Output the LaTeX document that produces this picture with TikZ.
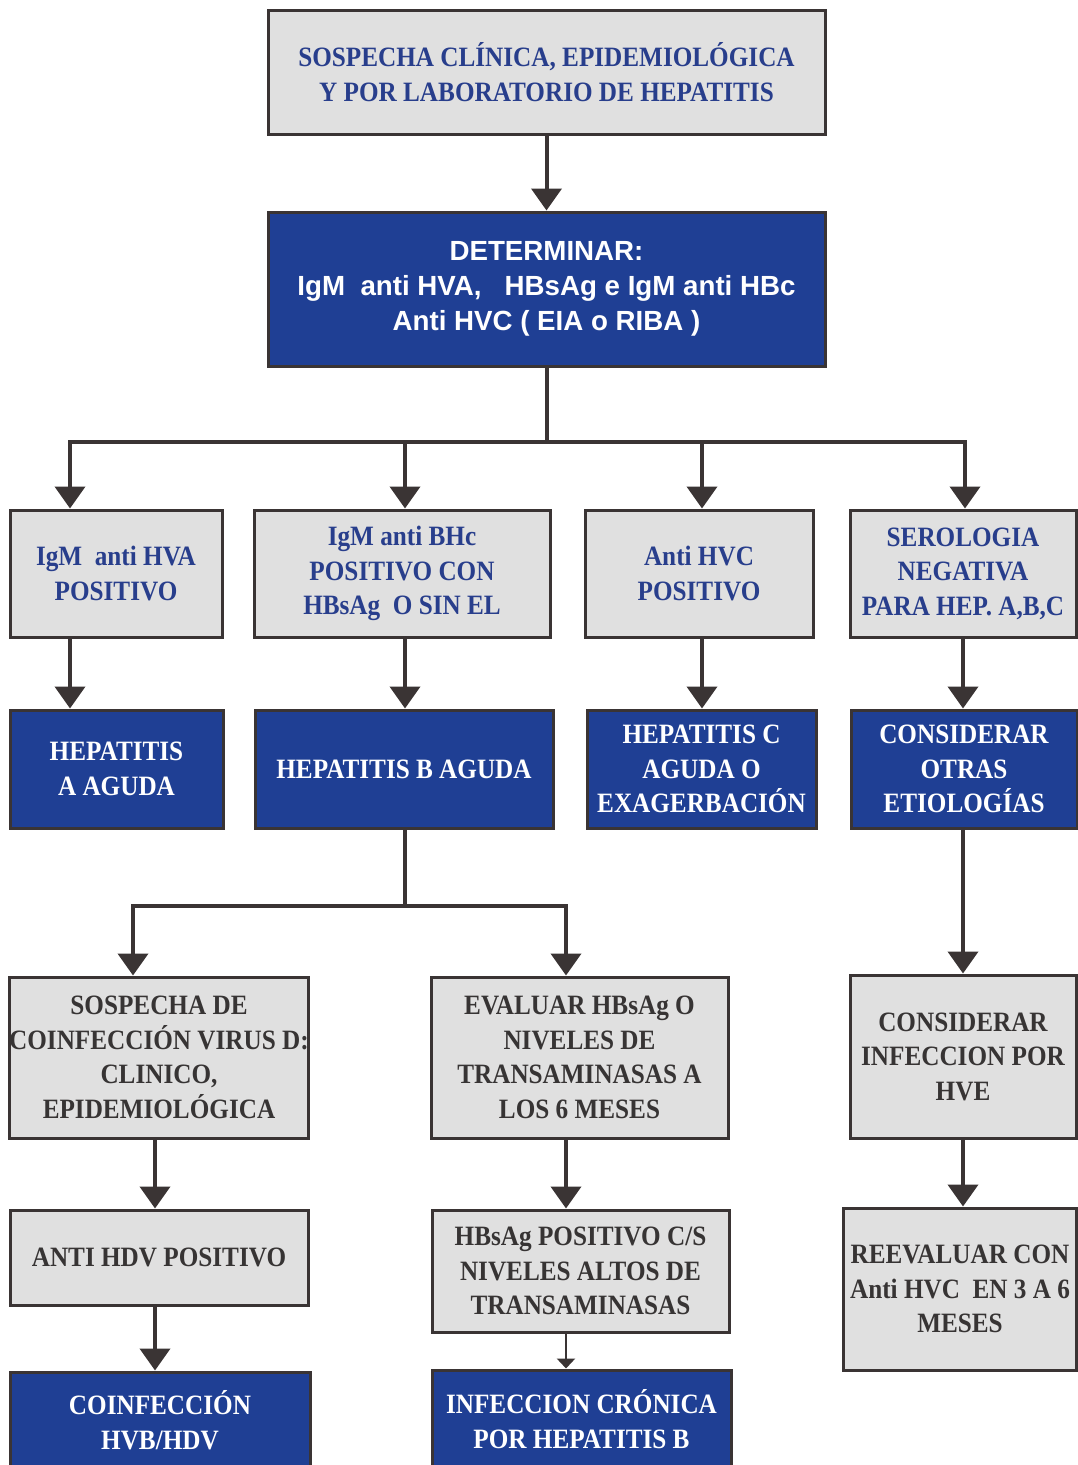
\documentclass[tikz,border=0pt]{standalone}
\usepackage{fontspec}
\setmainfont[FakeStretch=0.9]{Liberation Serif}
\newfontfamily\detfont{Liberation Sans}
\usetikzlibrary{arrows.meta}
\definecolor{boxblue}{RGB}{31,63,148}
\definecolor{boxgray}{RGB}{224,224,224}
\definecolor{txtblue}{RGB}{40,62,140}
\definecolor{txtdark}{RGB}{55,52,52}
\definecolor{edgecol}{RGB}{58,52,52}

\begin{document}
\begin{tikzpicture}[x=1pt, y=-1pt,
  box/.style={draw=edgecol, line width=3pt, rectangle, inner sep=0pt, align=center,
    font=\fontsize{28}{34.5}\selectfont\bfseries},
  sz/.style 2 args={minimum width=#1pt, minimum height=#2pt},
  graybox/.style={box, fill=boxgray, text=txtdark},
  grayblue/.style={box, fill=boxgray, text=txtblue},
  bluebox/.style={box, fill=boxblue, text=white},
  line/.style={draw=edgecol, line width=4pt},
  arr/.style={line, -{Triangle[width=30pt,length=22pt]}}]
  \useasboundingbox (0,0) rectangle (1078,1465);

  % top
  \node[grayblue, sz={557}{124}] (sosp) at (546.5,72) {SOSPECHA CLÍNICA, EPIDEMIOLÓGICA\\Y POR LABORATORIO DE HEPATITIS};
  \node[bluebox, sz={557}{154}, font=\fontsize{27.7}{35}\selectfont\detfont\bfseries] (det) at (546.5,289)
    {DETERMINAR:\\IgM~~anti HVA,~~~HBsAg e IgM anti HBc\\Anti HVC ( EIA o RIBA )};

  % second row
  \node[grayblue, sz={212}{127}] (posA) at (116,573.5) {IgM~~anti HVA\\POSITIVO};
  \node[grayblue, sz={296}{127}] (posB) at (402,573.5) {IgM anti BHc\\POSITIVO CON\\HBsAg~~O SIN EL};
  \node[grayblue, sz={228}{127}] (posC) at (699,573.5) {Anti HVC\\POSITIVO};
  \node[grayblue, sz={226}{127}] (neg) at (963,573.5) {SEROLOGIA\\NEGATIVA\\PARA HEP. A,B,C};

  % third row
  \node[bluebox, sz={213}{118}] (hepA) at (116.5,769) {HEPATITIS\\A AGUDA};
  \node[bluebox, sz={298}{118}] (hepB) at (404,769) {HEPATITIS B AGUDA};
  \node[bluebox, sz={229}{118}] (hepC) at (701.5,769) {HEPATITIS C\\AGUDA O\\EXAGERBACIÓN};
  \node[bluebox, sz={226}{118}] (otras) at (964,769) {CONSIDERAR\\OTRAS\\ETIOLOGÍAS};

  % fourth row
  \node[graybox, sz={298}{161}] (coinf) at (159,1057.5) {SOSPECHA DE\\COINFECCIÓN VIRUS D:\\CLINICO,\\EPIDEMIOLÓGICA};
  \node[graybox, sz={297}{161}] (eval) at (579.5,1057.5) {EVALUAR HBsAg O\\NIVELES DE\\TRANSAMINASAS A\\LOS 6 MESES};
  \node[graybox, sz={226}{163}] (hve) at (963,1056.5) {CONSIDERAR\\INFECCION POR\\HVE};

  % fifth row
  \node[graybox, sz={298}{95}] (hdv) at (159,1257.5) {ANTI HDV POSITIVO};
  \node[graybox, sz={297}{122}] (hbpos) at (580.5,1271) {HBsAg POSITIVO C/S\\NIVELES ALTOS DE\\TRANSAMINASAS};
  \node[graybox, sz={233}{162}] (reev) at (960,1289) {REEVALUAR CON\\Anti HVC~~EN 3 A 6\\MESES};

  % last row
  \node[bluebox, sz={300}{96}] (hvbhdv) at (160,1420) {COINFECCIÓN\\HVB/HDV};
  \node[bluebox, sz={299}{98}] (cronica) at (581.5,1419) {INFECCION CRÓNICA\\POR HEPATITIS B};

  % connectors
  \coordinate (jA) at (70,442);
  \coordinate (jB) at (405,442);
  \coordinate (jC) at (702,442);
  \coordinate (jD) at (965,442);
  \coordinate (jE) at (133,906);
  \coordinate (jF) at (566,906);
  \coordinate (kA) at (155,1175);

  \draw[arr] (sosp) -- (det);
  \draw[line] (det.south) -- (det.south |- jA);
  \draw[line, line cap=rect] (jA) -- (jD);
  \draw[arr] (jA) -- (posA.north -| jA);
  \draw[arr] (jB) -- (posB.north -| jB);
  \draw[arr] (jC) -- (posC.north -| jC);
  \draw[arr] (jD) -- (neg.north -| jD);

  \draw[arr] (posA.south -| jA) -- (hepA.north -| jA);
  \draw[arr] (posB.south -| jB) -- (hepB.north -| jB);
  \draw[arr] (posC.south -| jC) -- (hepC.north -| jC);
  \draw[arr] (neg.south -| hve) -- (otras.north -| hve);

  \draw[line] (hepB.south -| jB) -- (jB |- jE);
  \draw[line, line cap=rect] (jE) -- (jF);
  \draw[arr] (jE) -- (coinf.north -| jE);
  \draw[arr] (jF) -- (eval.north -| jF);
  \draw[arr] (otras.south -| hve) -- (hve.north);

  \draw[arr] (coinf.south -| kA) -- (hdv.north -| kA);
  \draw[arr] (eval.south -| jF) -- (hbpos.north -| jF);
  \draw[arr] (hve.south) -- (reev.north -| hve);
  \draw[arr] (hdv.south -| kA) -- (hvbhdv.north -| kA);
  \draw[line, line width=2.5pt, -{Triangle[width=18pt,length=10pt]}] (hbpos.south -| jF) -- (cronica.north -| jF);
\end{tikzpicture}
\end{document}
